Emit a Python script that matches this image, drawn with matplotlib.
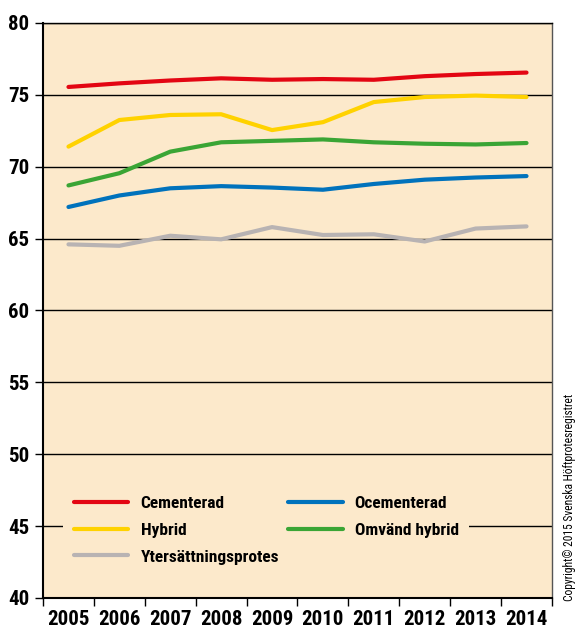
import matplotlib.pyplot as plt
import numpy as np

years = ['2005', '2006', '2007', '2008', '2009', '2010', '2011', '2012', '2013', '2014']
cementerad = [75.55, 75.8, 76.0, 76.15, 76.05, 76.1, 76.05, 76.3, 76.45, 76.55]
ocementerad = [67.2, 68.0, 68.5, 68.65, 68.55, 68.4, 68.8, 69.1, 69.25, 69.35]
hybrid = [71.4, 73.25, 73.6, 73.65, 72.55, 73.1, 74.5, 74.85, 74.95, 74.85]
omvand = [68.7, 69.55, 71.05, 71.7, 71.8, 71.9, 71.7, 71.6, 71.55, 71.65]
ytersattning = [64.6, 64.5, 65.2, 64.95, 65.8, 65.25, 65.3, 64.8, 65.7, 65.85]

fnt = ['Liberation Sans Narrow', 'Roboto Condensed', 'Liberation Sans', 'DejaVu Sans']
bg = '#FCE9CB'

fig = plt.figure(figsize=(5.79, 6.35), dpi=100)
ax = fig.add_axes([0.0743, 0.0583, 0.8790, 0.9055])
ax.set_facecolor(bg)

x = np.arange(len(years))
l1, = ax.plot(x, cementerad, color='#E30613', lw=3, solid_capstyle='round', label='Cementerad')
l2, = ax.plot(x, ocementerad, color='#0072BC', lw=3, solid_capstyle='round', label='Ocementerad')
l3, = ax.plot(x, hybrid, color='#FFD200', lw=3, solid_capstyle='round', label='Hybrid')
l4, = ax.plot(x, omvand, color='#3AA535', lw=3, solid_capstyle='round', label='Omvänd hybrid')
l5, = ax.plot(x, ytersattning, color='#B8B3B3', lw=3, solid_capstyle='round', label='Ytersättningsprotes')

ax.set_xlim(-0.5, len(years) - 0.5)
ax.set_ylim(40, 80)
ax.set_yticks(range(40, 81, 5))
ax.yaxis.grid(True, color='black', lw=1)
ax.set_axisbelow(True)

ax.set_xticks(np.arange(-0.5, len(years), 1))
ax.set_xticklabels([])
ax.set_xticks(x, minor=True)
ax.set_xticklabels(years, minor=True)
ax.tick_params(axis='x', which='major', length=6, width=1, direction='out')
ax.tick_params(axis='x', which='minor', length=0, pad=9)
ax.tick_params(axis='y', length=6, width=1, pad=4)
for lab in ax.get_xticklabels(minor=True) + ax.get_yticklabels():
    lab.set_family(fnt)
    lab.set_fontweight('bold')
    lab.set_fontsize(15)

for s in ['left', 'bottom']:
    ax.spines[s].set_linewidth(1.5)
for s in ['top', 'right']:
    ax.spines[s].set_linewidth(1)
ax.spines['right'].set_color('#555555')

leg = ax.legend(handles=[l1, l3, l5, l2, l4], ncol=2, loc='lower left',
                bbox_to_anchor=(0.04, 0.04), borderaxespad=0, frameon=True,
                facecolor=bg, edgecolor='none', framealpha=1, handlelength=3.15,
                handletextpad=0.7, columnspacing=0.5, labelspacing=0.68,
                borderpad=0.6,
                prop={'family': fnt, 'weight': 'bold', 'size': 12.5})

fig.text(0.984, 0.217, 'Copyright© 2015 Svenska Höftprotesregistret', rotation=90,
         ha='center', va='center', fontsize=8.3, family=fnt)

plt.savefig('out.png', dpi=100)
